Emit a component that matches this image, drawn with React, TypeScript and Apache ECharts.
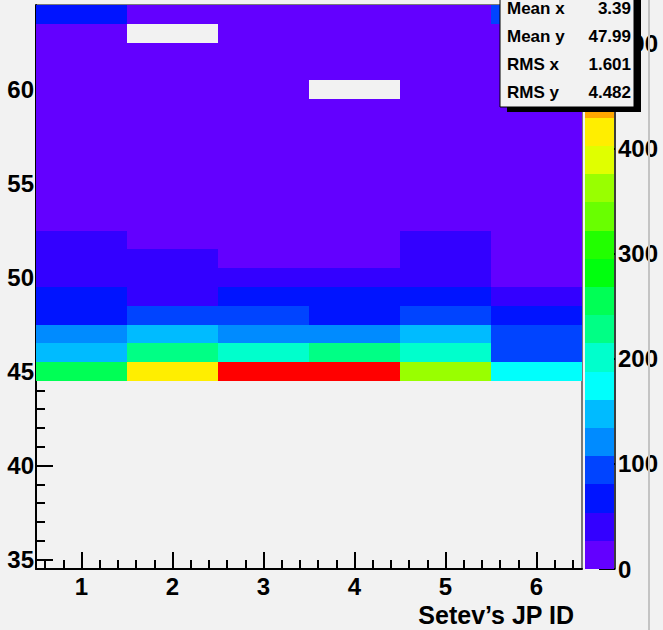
import React, { useEffect, useRef } from 'react';
import * as echarts from 'echarts';

// ---- data ----
const jpIds = [1, 2, 3, 4, 5, 6];
const yBins = [45, 46, 47, 48, 49, 50, 51, 52, 53, 54, 55, 56, 57, 58, 59, 60, 61, 62, 63, 64];
// counts per JP ID, listed for y = 45 .. 64 (0 = empty bin)
const jp1 = [255, 146, 118, 68, 64, 41, 38, 33, 19, 17, 16, 15, 14, 13, 12, 11, 10, 10, 9, 62];
const jp2 = [416, 226, 150, 92, 44, 39, 31, 22, 18, 16, 15, 14, 13, 12, 11, 11, 10, 9, 0, 8];
const jp3 = [511, 202, 121, 86, 61, 35, 24, 20, 18, 17, 15, 14, 13, 12, 12, 11, 10, 9, 8, 7];
const jp4 = [511, 230, 115, 63, 58, 30, 23, 19, 17, 16, 15, 14, 13, 12, 11, 0, 10, 9, 8, 7];
const jp5 = [362, 198, 141, 84, 66, 42, 36, 29, 20, 18, 16, 15, 14, 13, 12, 11, 10, 10, 9, 8];
const jp6 = [172, 90, 96, 60, 33, 25, 21, 18, 16, 15, 14, 13, 12, 12, 11, 10, 10, 9, 9, 88];
const columns = [jp1, jp2, jp3, jp4, jp5, jp6];

const xMajor = [1, 2, 3, 4, 5, 6];
const xMinor = [0.6, 0.8, 1.2, 1.4, 1.6, 1.8, 2.2, 2.4, 2.6, 2.8, 3.2, 3.4, 3.6, 3.8, 4.2, 4.4, 4.6, 4.8, 5.2, 5.4, 5.6, 5.8, 6.2, 6.4];
const yMajor = [35, 40, 45, 50, 55, 60];
const yMinor = [36, 37, 38, 39, 41, 42, 43, 44, 46, 47, 48, 49, 51, 52, 53, 54, 56, 57, 58, 59, 61, 62, 63, 64];
const zTicks = [0, 100, 200, 300, 400, 500];
const zMax = 537;

const palette = [
  '#6300ff', '#3300ff', '#0014ff', '#0044ff', '#008bff', '#00bbff', '#00fffc', '#00ffcc', '#00ff85', '#00ff55',
  '#00ff0e', '#22ff00', '#69ff00', '#99ff00', '#e0ff00', '#ffee00', '#ffa700', '#ff7700', '#ff3000', '#ff0000',
];

const statLabels = ['Mean x', 'Mean y', 'RMS x', 'RMS y'];
const statValues = ['3.39', '47.99', '1.601', '4.482'];

const FONT = '"Liberation Sans", Arial, Helvetica, sans-serif';

export default function App() {
  const ref = useRef<HTMLDivElement>(null);
  useEffect(() => {
    if (!ref.current) return;
    const chart = echarts.init(ref.current, undefined, { renderer: 'svg' });

    const cells: number[][] = [];
    columns.forEach((col, i) => {
      col.forEach((v, j) => {
        if (v > 0) cells.push([jpIds[i], yBins[j], v]);
      });
    });
    const nb = palette.length;
    const bands = palette.map((_, k) => [k, 0]);

    const tickStyle = { color: '#000', width: 2 };
    const labelStyle = { color: '#000', fontSize: 24, fontWeight: 'bold', fontFamily: FONT };

    const statGraphics: any[] = [];
    statLabels.forEach((lab, i) => {
      const y = 8 + i * 28;
      statGraphics.push({
        type: 'text', x: 507, y, z: 102,
        style: { text: lab, fill: '#000', font: `bold 17px ${FONT}`, align: 'left', textAlign: 'left', verticalAlign: 'middle', textVerticalAlign: 'middle' },
      });
      statGraphics.push({
        type: 'text', x: 631, y, z: 102,
        style: { text: statValues[i], fill: '#000', font: `bold 17px ${FONT}`, align: 'right', textAlign: 'right', verticalAlign: 'middle', textVerticalAlign: 'middle' },
      });
    });

    const option: any = {
      animation: false,
      backgroundColor: '#f2f2f2',
      grid: [
        { left: 36, top: 5, width: 546, height: 564, show: true, borderColor: '#000', borderWidth: 1, backgroundColor: 'transparent' },
        { left: 585, top: 5, width: 30, height: 564, show: false },
      ],
      xAxis: [
        {
          type: 'value', gridIndex: 0, min: 0.5, max: 6.5, position: 'bottom',
          axisLine: { show: true, onZero: false, lineStyle: { color: '#000', width: 2 } },
          axisTick: { show: true, inside: true, length: 17, lineStyle: tickStyle, customValues: xMajor },
          axisLabel: { show: true, customValues: xMajor, margin: 5, ...labelStyle },
          splitLine: { show: false },
        },
        {
          type: 'value', gridIndex: 0, min: 0.5, max: 6.5, position: 'bottom',
          axisLine: { show: false, onZero: false },
          axisTick: { show: true, inside: true, length: 9, lineStyle: tickStyle, customValues: xMinor },
          axisLabel: { show: false },
          splitLine: { show: false },
        },
        { type: 'value', gridIndex: 1, min: 0, max: 1, show: false, splitLine: { show: false } },
      ],
      yAxis: [
        {
          type: 'value', gridIndex: 0, min: 34.5, max: 64.5, position: 'left',
          axisLine: { show: true, onZero: false, lineStyle: { color: '#000', width: 2 } },
          axisTick: { show: true, inside: true, length: 17, lineStyle: tickStyle, customValues: yMajor },
          axisLabel: { show: true, customValues: yMajor, margin: 2, ...labelStyle },
          splitLine: { show: false },
        },
        {
          type: 'value', gridIndex: 0, min: 34.5, max: 64.5, position: 'left',
          axisLine: { show: false, onZero: false },
          axisTick: { show: true, inside: true, length: 9, lineStyle: tickStyle, customValues: yMinor },
          axisLabel: { show: false },
          splitLine: { show: false },
        },
        {
          type: 'value', gridIndex: 1, min: 0, max: zMax, position: 'right',
          axisLine: { show: true, onZero: false, lineStyle: { color: '#000', width: 1.5 } },
          axisTick: { show: true, inside: true, length: 16, lineStyle: tickStyle, customValues: zTicks },
          axisLabel: { show: true, customValues: zTicks, margin: 3, ...labelStyle },
          splitLine: { show: false },
        },
      ],
      series: [
        {
          type: 'custom', xAxisIndex: 0, yAxisIndex: 0, clip: true, z: 1,
          data: cells,
          encode: { x: 0, y: 1 },
          renderItem: (params: any, api: any) => {
            const x = api.value(0), y = api.value(1), v = api.value(2);
            const p0 = api.coord([x - 0.5, y + 0.5]);
            const p1 = api.coord([x + 0.5, y - 0.5]);
            const x0 = Math.round(p0[0]), y0 = Math.round(p0[1]);
            const x1 = Math.round(p1[0]), y1 = Math.round(p1[1]);
            const k = Math.min(nb - 1, Math.floor((v * nb) / zMax));
            return {
              type: 'rect',
              shape: { x: x0, y: y0, width: x1 - x0, height: y1 - y0 },
              style: { fill: palette[k] },
            };
          },
        },
        {
          type: 'custom', xAxisIndex: 2, yAxisIndex: 2, z: 1,
          data: bands,
          encode: { x: 1, y: 0 },
          renderItem: (params: any, api: any) => {
            const k = api.value(0);
            const p0 = api.coord([0, ((k + 1) * zMax) / nb]);
            const p1 = api.coord([1, (k * zMax) / nb]);
            const x0 = Math.round(p0[0]), y0 = Math.round(p0[1]);
            const x1 = Math.round(p1[0]), y1 = Math.round(p1[1]);
            return {
              type: 'rect',
              shape: { x: x0, y: y0, width: x1 - x0 - 1, height: y1 - y0 },
              style: { fill: palette[k] },
            };
          },
        },
      ],
      graphic: [
        { type: 'line', shape: { x1: 649, y1: 0, x2: 649, y2: 630 }, style: { stroke: '#c4c4c4', lineWidth: 2 }, z: 50 },
        { type: 'rect', shape: { x: 507, y: -10, width: 134, height: 122 }, style: { fill: '#000' }, z: 100 },
        { type: 'rect', shape: { x: 500, y: -10, width: 134, height: 117 }, style: { fill: '#f2f2f2', stroke: '#000', lineWidth: 1 }, z: 101 },
        ...statGraphics,
        {
          type: 'text', x: 574, y: 615, z: 102,
          style: { text: 'Setev\u2019s JP ID', fill: '#000', font: `bold 25px ${FONT}`, align: 'right', textAlign: 'right', verticalAlign: 'middle', textVerticalAlign: 'middle' },
        },
      ],
    };
    chart.setOption(option);
    return () => chart.dispose();
  }, []);
  return <div ref={ref} style={{ position: 'fixed', left: 0, top: 0, width: 663, height: 630 }} />;
}
